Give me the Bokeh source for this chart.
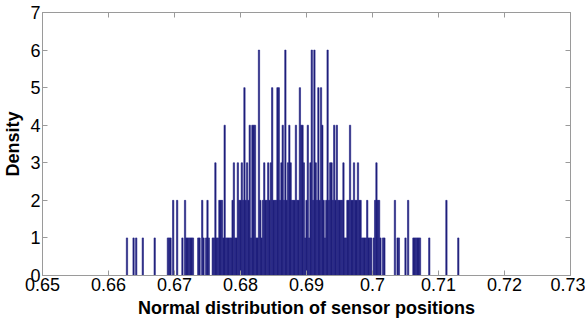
from bokeh.plotting import figure
from bokeh.models import LinearAxis, FixedTicker, Range1d, ColumnDataSource
from bokeh.embed import file_html
from bokeh.resources import INLINE
import numpy as np

# Histogram data
bin_start = 0.6626      # centre of first bin
bin_width = 0.0002
counts = [
    0, 1, 0, 0, 0, 0, 1, 0, 1, 0,   # 0-9
    0, 0, 0, 1, 0, 0, 0, 0, 0, 0,   # 10-19
    0, 0, 1, 0, 0, 0, 0, 0, 0, 0,   # 20-29
    0, 0, 1, 1, 1, 0, 2, 0, 0, 2,   # 30-39
    0, 0, 0, 1, 0, 2, 1, 1, 1, 1,   # 40-49
    1, 1, 0, 0, 0, 1, 1, 0, 2, 1,   # 50-59
    0, 1, 2, 1, 0, 0, 1, 1, 3, 1,   # 60-69
    1, 2, 2, 2, 1, 4, 1, 1, 1, 1,   # 70-79
    1, 2, 3, 1, 1, 3, 2, 2, 3, 2,   # 80-89
    5, 2, 3, 2, 4, 1, 4, 4, 4, 1,   # 90-99
    1, 6, 2, 1, 2, 3, 2, 2, 3, 2,   # 100-109
    3, 5, 2, 2, 2, 5, 5, 2, 3, 4,   # 110-119
    2, 6, 2, 3, 4, 3, 2, 2, 2, 4,   # 120-129
    2, 2, 5, 4, 4, 3, 1, 2, 4, 1,   # 130-139
    3, 6, 2, 6, 3, 2, 5, 2, 5, 4,   # 140-149
    2, 1, 2, 6, 2, 3, 3, 2, 4, 2,   # 150-159
    4, 2, 2, 2, 2, 3, 1, 1, 2, 2,   # 160-169
    4, 2, 2, 3, 2, 2, 3, 2, 2, 1,   # 170-179
    1, 1, 1, 2, 1, 1, 1, 0, 1, 2,   # 180-189
    3, 2, 2, 1, 0, 1, 1, 0, 0, 0,   # 190-199
    0, 0, 0, 0, 2, 0, 1, 1, 0, 0,   # 200-209
    0, 0, 1, 0, 2, 0, 0, 0, 1, 1,   # 210-219
    1, 1, 1, 1, 0, 0, 0, 0, 0, 0,   # 220-229
    1, 0, 0, 0, 0, 0, 0, 0, 0, 0,   # 230-239
    0, 0, 0, 2, 0, 0, 0, 0, 0, 0,   # 240-249
    0, 0, 1,                        # 250-252
]
x_ticks = [0.65, 0.66, 0.67, 0.68, 0.69, 0.70, 0.71, 0.72, 0.73]
x_tick_labels = ["0.65", "0.66", "0.67", "0.68", "0.69", "0.7", "0.71", "0.72", "0.73"]
y_ticks = [0, 1, 2, 3, 4, 5, 6, 7]
x_title = "Normal distribution of sensor positions"
y_title = "Density"

centers = bin_start + bin_width * np.arange(len(counts))
src = ColumnDataSource(dict(x=centers, top=counts))

FONT = "Liberation Sans"
AX = "#9a9a9a"

p = figure(width=585, height=320, x_range=Range1d(0.65, 0.73), y_range=Range1d(0, 7),
           output_backend="svg", toolbar_location=None,
           min_border_left=40, min_border_right=15, min_border_top=12, min_border_bottom=45)
p.xgrid.visible = False
p.ygrid.visible = False
p.outline_line_color = AX
p.background_fill_color = "white"
p.border_fill_color = "white"

p.vbar(x="x", top="top", bottom=0, width=bin_width, source=src,
       fill_color="#1c1c72", line_color="#25258a", line_width=0.6)

def style(ax, labels=True):
    ax.axis_line_color = AX
    ax.major_tick_line_color = AX
    ax.major_tick_in = 5
    ax.major_tick_out = 0
    ax.minor_tick_line_color = None
    ax.major_label_text_font = FONT
    ax.major_label_text_color = "black"
    ax.major_label_text_font_size = "18px"
    ax.major_label_standoff = 2

xa = p.xaxis[0]
style(xa)
xa.ticker = FixedTicker(ticks=x_ticks)
xa.major_label_overrides = {t: l for t, l in zip(x_ticks, x_tick_labels)}
xa.axis_label = x_title
xa.axis_label_text_font = FONT
xa.axis_label_text_font_style = "bold"
xa.axis_label_text_font_size = "18px"
xa.axis_label_text_color = "black"
xa.axis_label_standoff = 4

ya = p.yaxis[0]
style(ya)
ya.ticker = FixedTicker(ticks=y_ticks)
ya.axis_label = y_title
ya.axis_label_text_font = FONT
ya.axis_label_text_font_style = "bold"
ya.axis_label_text_font_size = "18px"
ya.axis_label_text_color = "black"
ya.axis_label_standoff = 4

# box ticks on top and right (no labels), like the reference frame
top_ax = LinearAxis(ticker=FixedTicker(ticks=x_ticks))
style(top_ax)
top_ax.major_label_text_alpha = 0
top_ax.major_label_standoff = 0
top_ax.major_label_text_font_size = "1px"
p.add_layout(top_ax, "above")
right_ax = LinearAxis(ticker=FixedTicker(ticks=y_ticks))
style(right_ax)
right_ax.major_label_text_alpha = 0
right_ax.major_label_standoff = 0
right_ax.major_label_text_font_size = "1px"
p.add_layout(right_ax, "right")

open("out.html", "w").write(file_html(p, INLINE))
